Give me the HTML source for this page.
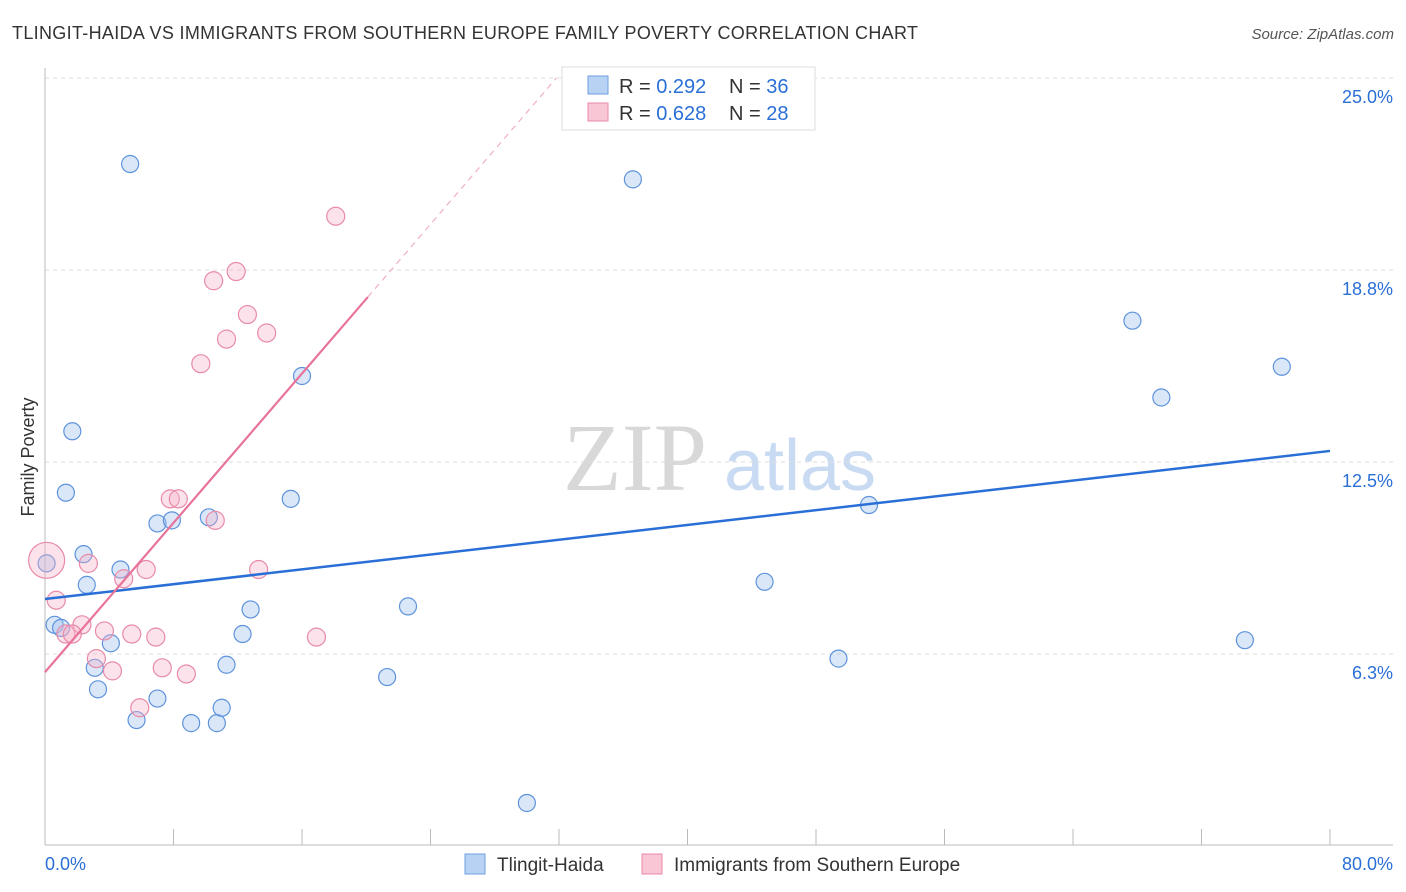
<!DOCTYPE html>
<html><head><meta charset="utf-8"><style>
body{margin:0;background:#fff;font-family:"Liberation Sans",sans-serif;}
svg{display:block}
</style></head><body>
<svg id="chart" width="1406" height="892" viewBox="0 0 1406 892" xmlns="http://www.w3.org/2000/svg">
<text x="12" y="39" font-size="18" fill="#333" textLength="906">TLINGIT-HAIDA VS IMMIGRANTS FROM SOUTHERN EUROPE FAMILY POVERTY CORRELATION CHART</text>
<text x="1394" y="39" font-size="15" fill="#555" font-style="italic" text-anchor="end">Source: ZipAtlas.com</text>
<g>
<text x="635" y="490" font-size="96" fill="#d8d8d8" font-family="Liberation Serif,serif" text-anchor="middle">ZIP</text>
<text x="800" y="490" font-size="72" fill="#c9dbf3" text-anchor="middle">atlas</text>
</g>
<g id="grid"></g>
<g id="axes"></g>
<g id="marks"></g>
<g>
<rect x="562" y="67" width="253" height="63" fill="#fff" stroke="#ddd"/>
<rect x="588" y="76" width="20" height="18" fill="#b8d2f3" stroke="#6e9ee0"/>
<text x="619" y="93" font-size="20" fill="#333">R = <tspan fill="#2a6fd6">0.292</tspan></text>
<text x="729" y="93" font-size="20" fill="#333">N = <tspan fill="#2a6fd6">36</tspan></text>
<rect x="588" y="103" width="20" height="18" fill="#f8c6d5" stroke="#e88aa8"/>
<text x="619" y="120" font-size="20" fill="#333">R = <tspan fill="#2a6fd6">0.628</tspan></text>
<text x="729" y="120" font-size="20" fill="#333">N = <tspan fill="#2a6fd6">28</tspan></text>
</g>
<g>
<rect x="465" y="854" width="20" height="20" fill="#b8d2f3" stroke="#6e9ee0"/>
<text x="497" y="871" font-size="19" fill="#333">Tlingit-Haida</text>
<rect x="642" y="854" width="20" height="20" fill="#f8c6d5" stroke="#e88aa8"/>
<text x="674" y="871" font-size="19" fill="#333">Immigrants from Southern Europe</text>
</g>
<text transform="translate(34,457) rotate(-90)" font-size="18" fill="#333" text-anchor="middle">Family Poverty</text>
</svg>
<script>
const yTicks=[25,18.75,12.5,6.25];
const yTickLabels=["25.0%","18.8%","12.5%","6.3%"];
const xTickLabels=["0.0%","80.0%"];
const blueX=[5.3,36.6,0.1,1.7,1.3,2.4,2.6,0.6,1.0,4.1,3.1,3.3,4.7,7.0,7.9,5.7,7.0,9.1,10.7,11.0,11.3,12.3,12.8,10.2,15.3,16.0,21.3,22.6,30.0,44.8,49.4,51.3,67.7,69.5,77.0,74.7];
const blueY=[22.2,21.7,9.2,13.5,11.5,9.5,8.5,7.2,7.1,6.6,5.8,5.1,9.0,10.5,10.6,4.1,4.8,4.0,4.0,4.5,5.9,6.9,7.7,10.7,11.3,15.3,5.5,7.8,1.4,8.6,6.1,11.1,17.1,14.6,15.6,6.7];
const pinkX=[0.1,0.7,2.7,4.9,6.3,2.3,1.3,1.7,3.2,3.7,4.2,5.4,6.9,5.9,7.3,8.8,7.8,8.3,10.6,13.3,16.9,9.7,10.5,11.9,11.3,12.6,13.8,18.1];
const pinkY=[9.3,8.0,9.2,8.7,9.0,7.2,6.9,6.9,6.1,7.0,5.7,6.9,6.8,4.5,5.8,5.6,11.3,11.3,10.6,9.0,6.8,15.7,18.4,18.7,16.5,17.3,16.7,20.5];
const pinkR=[18,9,9,9,9,9,9,9,9,9,9,9,9,9,9,9,9,9,9,9,9,9,9,9,9,9,9,9];
const blueLine=[8.04,12.86];
const pinkLine=[5.66,17.87,20.1];
const NS="http://www.w3.org/2000/svg";
const xs=v=>45+v/80*1285, ys=v=>78+(25-v)*30.72;
function mk(p,t,a){const e=document.createElementNS(NS,t);for(const k in a)e.setAttribute(k,a[k]);p.appendChild(e);return e;}
const grid=document.getElementById('grid'),axes=document.getElementById('axes'),marks=document.getElementById('marks');
yTicks.forEach((t,i)=>{
 const l=mk(grid,'line',{x1:45,x2:1393,y1:ys(t),y2:ys(t),stroke:'#ddd','stroke-dasharray':'4,4'});
 
 
 const tx=mk(axes,'text',{x:1393,y:ys(t)+25,'font-size':18,fill:'#2a6fd6','text-anchor':'end'});
 tx.textContent=yTickLabels[i];
 
 
});
let a=mk(axes,'line',{x1:45,x2:45,y1:68,y2:845,stroke:'#bbb'});

a=mk(axes,'line',{x1:45,x2:1393,y1:845,y2:845,stroke:'#bbb'});

for(let i=0;i<=10;i++){const x=xs(i*8);const t=mk(axes,'line',{x1:x,x2:x,y1:829,y2:845,stroke:'#bbb'});
 
 }
[[0,'start',45],[80,'end',1393]].forEach((d,i)=>{const t=mk(axes,'text',{x:d[2],y:870,'font-size':18,fill:'#2a6fd6','text-anchor':d[1]});t.textContent=xTickLabels[i];
 
 });
blueX.forEach((x,i)=>{const c=mk(marks,'circle',{cx:xs(x),cy:ys(blueY[i]),r:8.5,fill:'rgba(160,195,240,0.4)',stroke:'#5e93dc','stroke-width':1.2});
 
 });
pinkX.forEach((x,i)=>{const c=mk(marks,'circle',{cx:xs(x),cy:ys(pinkY[i]),r:pinkR[i],fill:'rgba(245,175,198,0.35)',stroke:'#e88aa8','stroke-width':1.2});
 
 });
let ln=mk(marks,'line',{x1:xs(0),y1:ys(blueLine[0]),x2:xs(80),y2:ys(blueLine[1]),stroke:'#2a6fd6','stroke-width':2.5});

const slope=(pinkLine[1]-pinkLine[0])/pinkLine[2];
ln=mk(marks,'line',{x1:xs(0),y1:ys(pinkLine[0]),x2:xs(pinkLine[2]),y2:ys(pinkLine[1]),stroke:'#e8739a','stroke-width':2.2});

const xe=(25-pinkLine[0])/slope;
ln=mk(marks,'line',{x1:xs(pinkLine[2]),y1:ys(pinkLine[1]),x2:xs(xe),y2:ys(25),stroke:'#f0b0c4','stroke-width':1.2,'stroke-dasharray':'6,5'});

</script>
</body></html>
